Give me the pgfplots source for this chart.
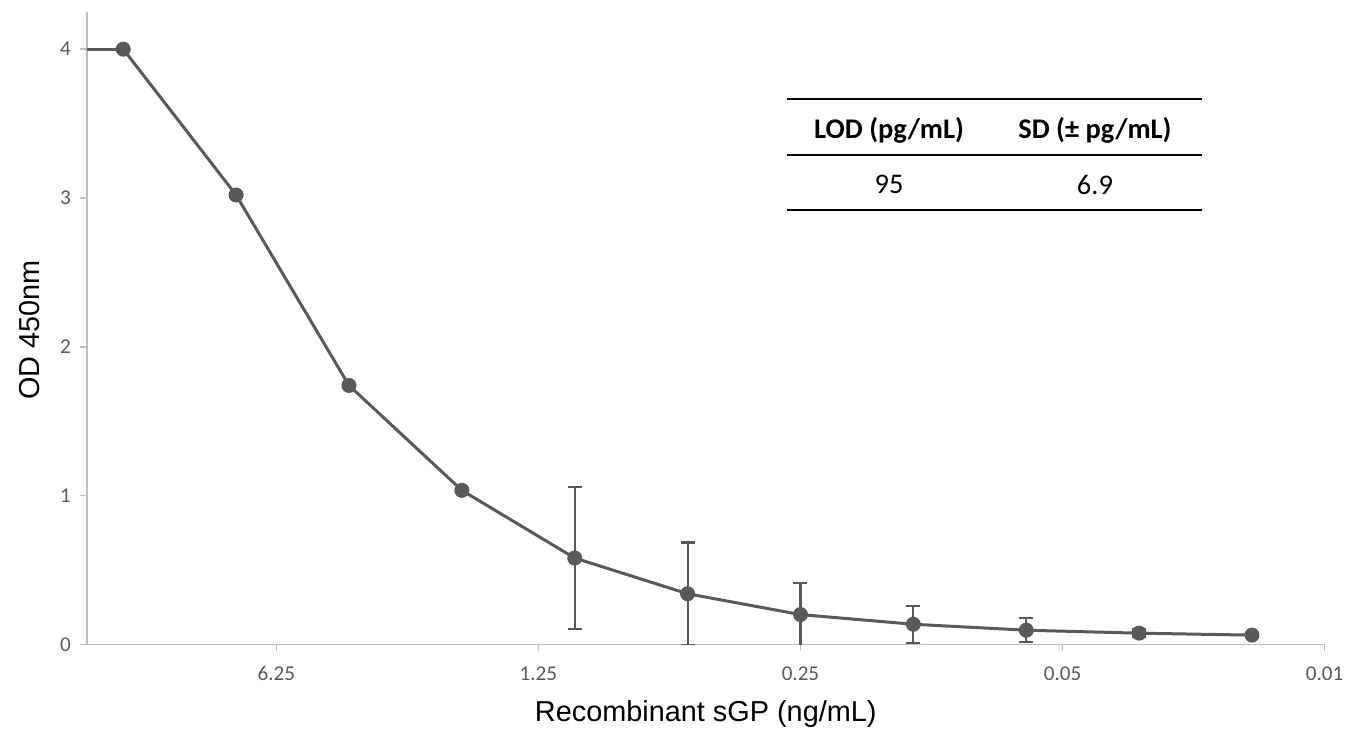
\documentclass[border=0pt]{standalone}
\usepackage{fontspec}
\setmainfont{Carlito}
\newfontfamily\arialf{Liberation Sans}
\usepackage{pgfplots}
\usepackage{pgfplotstable}
\pgfplotsset{compat=1.18}

\definecolor{linegray}{HTML}{595959}
\definecolor{axgray}{HTML}{BFBFBF}

% conc (ng/mL), OD450, SD
\pgfplotstableread{
x y err
16 4.00 0
8 3.02 0
4 1.74 0
2 1.035 0
1 0.58 0.475
0.5 0.34 0.345
0.25 0.20 0.21
0.125 0.135 0.125
0.0625 0.095 0.08
0.03125 0.075 0.026
0.015625 0.062 0
}\curve

\begin{document}
\begin{tikzpicture}
\begin{axis}[
  scale only axis,
  width=619.5bp, height=316.5bp,
  xmode=log, log basis x=5,
  x dir=reverse,
  xmin=0.01, xmax=20,
  ymin=0, ymax=4.25,
  xtick={6.25,1.25,0.25,0.05,0.01},
  xticklabels={6.25,1.25,0.25,0.05,0.01},
  ytick={0,1,2,3,4},
  minor xtick={},
  axis x line*=bottom, axis y line*=left,
  axis line style={axgray, line width=0.8bp, -},
  tick style={axgray, line width=0.8bp},
  tick align=outside,
  major tick length=3.5bp,
  /pgf/number format/assume math mode=true,
  ticklabel style={font=\fontsize{10.6}{12}\selectfont, text=linegray},
  xticklabel style={yshift=-4bp},
  yticklabel style={xshift=-1bp},
  xlabel={\arialf Recombinant sGP (ng/mL)},
  ylabel={\arialf OD 450nm},
  label style={font=\fontsize{14.5}{17}\selectfont, text=black},
  xlabel style={at={(axis description cs:0.5,0)}, anchor=center, yshift=-35bp},
  ylabel style={at={(axis description cs:0,0.497)}, anchor=center, yshift=28.5bp},
]
% saturated point left of the axis range
\addplot[linegray, line width=1.5bp, no marks] coordinates {(32,4) (16,4)};
\addplot[linegray, line width=1.5bp, mark=*, mark size=3bp,
  mark options={fill=linegray, draw=linegray},
  error bars/.cd, y dir=both, y explicit,
  error bar style={linegray, line width=1.1bp},
  error mark options={rotate=90, linegray, line width=1.1bp, mark size=3.5bp}]
  table[x=x, y=y, y error=err] {\curve};

% inset table
\draw[black, line width=1bp] (rel axis cs:0.5658,0.8626) -- (rel axis cs:0.9007,0.8626);
\draw[black, line width=1bp] (rel axis cs:0.5658,0.7741) -- (rel axis cs:0.9007,0.7741);
\draw[black, line width=1bp] (rel axis cs:0.5658,0.6872) -- (rel axis cs:0.9007,0.6872);
\node[font=\fontsize{14.3}{17}\selectfont\bfseries] at (rel axis cs:0.6481,0.8136) {LOD (pg/mL)};
\node[font=\fontsize{14.3}{17}\selectfont\bfseries] at (rel axis cs:0.8144,0.8136) {SD (± pg/mL)};
\node[font=\fontsize{14.3}{17}\selectfont] at (rel axis cs:0.6481,0.7267) {95};
\node[font=\fontsize{14.3}{17}\selectfont] at (rel axis cs:0.8144,0.7267) {6.9};
\end{axis}
\path[use as bounding box] (-43.5bp,-42.5bp) rectangle (631.5bp,322.5bp);
\end{tikzpicture}
\end{document}
